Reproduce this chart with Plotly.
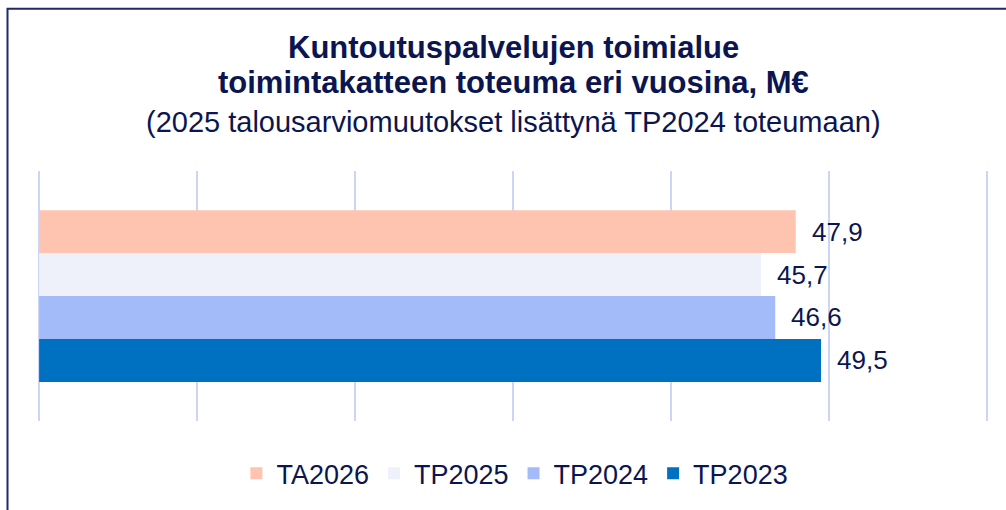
import plotly.graph_objects as go

series = ["TP2023", "TP2024", "TP2025", "TA2026"]
values = [49.5, 46.6, 45.7, 47.9]
colors = ["#0070C0", "#A3BCF9", "#EEF1FA", "#FFC4B0"]
category = ["Kuntoutus"]
tick_vals = [0, 10, 20, 30, 40, 50, 60]
title_lines = ["Kuntoutuspalvelujen toimialue", "toimintakatteen toteuma eri vuosina, M€"]
subtitle = "(2025 talousarviomuutokset lisättynä TP2024 toteumaan)"

navy = "#0B1650"
FONT = "Liberation Sans, Arial, sans-serif"
fig = go.Figure()
for name, v, c in zip(series, values, colors):
    fig.add_trace(go.Bar(
        y=category, x=[v], name=name, orientation="h",
        marker=dict(color=c, line=dict(width=0)),
        hoverinfo="x+name",
    ))

# data labels
n = len(series)
grp = 1 - 0.313
bw = grp / n
for i, v in enumerate(values):
    ypos = -grp / 2 + bw * (i + 0.5)
    fig.add_annotation(x=v, y=ypos, xref="x", yref="y", text=f"{v:.1f}".replace(".", ","),
                       showarrow=False, xanchor="left", xshift=14,
                       font=dict(family=FONT, size=26, color=navy))

PH = 252.0
def py(page_y):
    return (423 - page_y) / PH

fig.add_annotation(x=0.5, y=py(47), xref="paper", yref="paper", text=f"<b>{title_lines[0]}</b>",
                   showarrow=False, xanchor="center", yanchor="middle",
                   font=dict(family=FONT, size=31, color=navy))
fig.add_annotation(x=0.5, y=py(82), xref="paper", yref="paper", text=f"<b>{title_lines[1]}</b>",
                   showarrow=False, xanchor="center", yanchor="middle",
                   font=dict(family=FONT, size=31, color=navy))
fig.add_annotation(x=0.5, y=py(122), xref="paper", yref="paper", text=subtitle,
                   showarrow=False, xanchor="center", yanchor="middle",
                   font=dict(family=FONT, size=29, color=navy))

fig.update_layout(
    width=1006, height=510,
    margin=dict(l=38, r=18, t=171, b=87),
    paper_bgcolor="white", plot_bgcolor="white",
    barmode="group", bargap=0.313, bargroupgap=0,
    font=dict(family=FONT, color=navy),
    xaxis=dict(range=[-0.07, 60.07], tickvals=tick_vals, showticklabels=False, showgrid=True,
               gridcolor="#CCD5F5", gridwidth=2, zeroline=True, zerolinecolor="#CCD5F5",
               zerolinewidth=2, showline=False, fixedrange=True),
    yaxis=dict(range=[-0.5, 0.5], showticklabels=False, showgrid=False, zeroline=False, showline=False),
    legend=dict(orientation="h", x=0.502, xanchor="center", y=py(476), yanchor="middle",
                traceorder="reversed", font=dict(family=FONT, size=27, color=navy), itemwidth=30),
    showlegend=True,
)
fig.add_shape(type="rect", xref="paper", yref="paper", x0=-30.5 / 950, x1=1.2, y0=-1, y1=py(7.5),
              line=dict(color="#1F2A6B", width=2), fillcolor="rgba(0,0,0,0)", layer="above")

fig.write_html("out.html", config={"displayModeBar": False},
               post_script="document.body.style.margin='0';document.body.style.padding='0';")
